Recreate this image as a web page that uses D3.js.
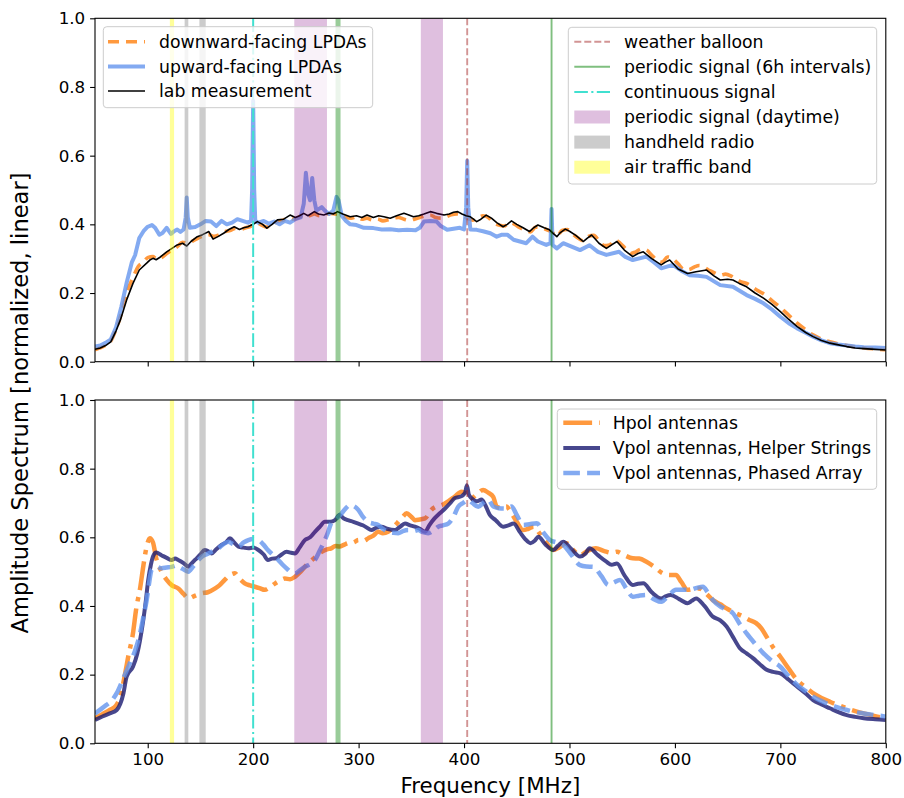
<!DOCTYPE html>
<html><head><meta charset="utf-8">
<script src="https://cdn.jsdelivr.net/npm/d3@7"></script>
<style>body{margin:0;background:#fff}text{font-family:"DejaVu Sans",sans-serif}</style>
</head><body><svg id="c" width="904" height="798"></svg>
<script>
// ---------------- DATA ----------------
const xTicks = [100,200,300,400,500,600,700,800];
const yTicks = [0,0.2,0.4,0.6,0.8,1.0];

// top panel
const downFreq = [50,55,60,65,70,75,80,86,91,96,100,105,109,113,118,123,128,133,138,143,148,153,158,163,168,173,178,183,188,193,198,203,208,213,218,223,228,233,238,243,248,253,258,263,268,273,278,283,288,293,298,303,308,313,318,323,328,333,338,343,348,353,358,363,368,373,378,383,388,393,398,403,408,413,418,423,428,433,438,443,448,453,458,463,468,473,478,483,488,493,498,503,508,513,518,523,528,533,538,543,548,553,558,563,568,573,578,583,588,593,598,603,608,613,618,623,628,633,638,643,648,653,658,663,668,673,678,684,692,700,708,716,724,731,739,747,755,763,771,779,790,800];
const downVals = [0.035,0.04,0.048,0.06,0.095,0.14,0.2,0.245,0.277,0.29,0.303,0.306,0.298,0.303,0.315,0.325,0.335,0.348,0.345,0.352,0.36,0.367,0.37,0.365,0.37,0.378,0.382,0.388,0.385,0.39,0.395,0.405,0.398,0.392,0.4,0.408,0.412,0.418,0.415,0.42,0.427,0.425,0.43,0.425,0.428,0.432,0.43,0.428,0.42,0.418,0.422,0.415,0.418,0.413,0.416,0.41,0.413,0.418,0.42,0.415,0.412,0.415,0.42,0.425,0.427,0.42,0.418,0.422,0.428,0.43,0.425,0.418,0.412,0.418,0.425,0.42,0.405,0.398,0.395,0.405,0.4,0.39,0.383,0.378,0.392,0.39,0.385,0.378,0.366,0.382,0.385,0.372,0.36,0.352,0.365,0.368,0.352,0.338,0.34,0.355,0.345,0.33,0.315,0.32,0.328,0.325,0.31,0.295,0.29,0.305,0.3,0.285,0.27,0.268,0.275,0.28,0.275,0.265,0.258,0.252,0.255,0.25,0.24,0.232,0.228,0.218,0.208,0.198,0.178,0.158,0.135,0.112,0.093,0.078,0.066,0.058,0.052,0.047,0.043,0.04,0.037,0.035];

const upFreq = [50,55,60,65,70,75,80,85,88,92,96,100,104,107,111,114,118,122,125,128,131,134,136,137,138,140,145,150,155,160,165,170,175,180,185,190,195,198,199,200,201,202,205,210,215,220,225,230,235,240,245,248,250,252,254,256,258,260,265,268,272,276,279,281,284,288,292,298,305,314,322,330,338,346,354,358,362,368,374,378,384,390,396,400,402,403,404,406,412,418,425,431,436,441,447,453,459,465,470,478,482,483,484,488,494,502,510,519,527,535,547,553,560,573,580,587,598,606,614,622,630,643,655,668,676,684,692,700,708,716,724,731,739,747,755,763,771,779,790,800];
const upVals = [0.044,0.047,0.055,0.065,0.1,0.16,0.23,0.29,0.31,0.36,0.38,0.393,0.398,0.39,0.37,0.375,0.39,0.372,0.38,0.385,0.378,0.385,0.42,0.478,0.42,0.39,0.392,0.4,0.41,0.408,0.395,0.41,0.4,0.405,0.415,0.41,0.405,0.41,0.5,0.76,0.5,0.41,0.405,0.41,0.402,0.408,0.4,0.41,0.405,0.415,0.42,0.46,0.55,0.49,0.47,0.535,0.47,0.44,0.45,0.44,0.43,0.44,0.48,0.47,0.425,0.41,0.4,0.398,0.39,0.389,0.385,0.386,0.383,0.384,0.383,0.39,0.408,0.41,0.408,0.395,0.384,0.387,0.39,0.385,0.45,0.585,0.45,0.385,0.384,0.38,0.374,0.364,0.37,0.37,0.355,0.35,0.345,0.364,0.35,0.34,0.345,0.445,0.34,0.33,0.345,0.335,0.325,0.339,0.32,0.311,0.32,0.305,0.296,0.306,0.29,0.272,0.282,0.265,0.252,0.25,0.247,0.223,0.218,0.194,0.183,0.17,0.152,0.131,0.112,0.097,0.084,0.073,0.062,0.054,0.05,0.047,0.044,0.042,0.041,0.04];

const labFreq = [50,55,60,65,70,74,80,86,92,99,102,105,108,112,118,123,128,133,137,141,147,152,158,162,167,172,177,182,187,191,195,200,204,209,213,218,223,229,235,240,244,248,252,258,262,267,272,276,280,285,292,298,303,308,314,319,324,330,336,343,347,352,357,362,368,374,381,386,390,394,398,402,406,409,412,416,421,426,431,437,441,445,450,456,462,466,470,476,481,484,488,491,496,500,506,513,517,521,528,535,540,545,552,560,565,570,578,587,591,595,603,612,620,630,637,643,650,655,661,668,676,684,692,700,708,716,724,731,739,747,755,763,771,779,790,800];
const labVals = [0.036,0.04,0.047,0.058,0.09,0.121,0.18,0.228,0.267,0.287,0.296,0.301,0.297,0.305,0.32,0.33,0.34,0.345,0.337,0.35,0.364,0.37,0.379,0.357,0.365,0.374,0.385,0.393,0.385,0.39,0.393,0.4,0.408,0.4,0.389,0.4,0.413,0.415,0.427,0.42,0.425,0.432,0.425,0.437,0.43,0.427,0.433,0.43,0.437,0.43,0.422,0.425,0.42,0.427,0.42,0.425,0.422,0.418,0.425,0.432,0.428,0.422,0.425,0.43,0.437,0.432,0.427,0.43,0.435,0.437,0.43,0.425,0.422,0.415,0.408,0.415,0.427,0.418,0.405,0.393,0.4,0.41,0.4,0.39,0.379,0.39,0.398,0.39,0.384,0.375,0.364,0.375,0.386,0.38,0.368,0.35,0.36,0.369,0.345,0.33,0.34,0.35,0.325,0.306,0.315,0.32,0.3,0.282,0.29,0.296,0.27,0.257,0.262,0.267,0.25,0.238,0.24,0.238,0.228,0.218,0.2,0.185,0.167,0.146,0.123,0.102,0.085,0.073,0.062,0.054,0.049,0.044,0.04,0.038,0.036,0.034];

// bottom panel
const hpolFreq = [50,57,64,70,74,78,82,86,89,93,96,99,102,105,108,113,118,123,129,134,138.5,145,151,157,164,168,173,178,182.7,187,192,197,201.7,206,211,216,221,226,230,235,239.6,245,252,258,265,270,274,278,282,286,290,295,300,305,309,314,318.6,323,328,333,337.6,342,345.5,350,353.4,358,363,369,374,379,385,391,397.7,403,407,412,418,423,427.7,431,436,440,445,450,456,461,466,472,478,484.6,490,497,503,510,517,525,533,540,545,552,560,566,573,580,588.6,595,601,606,612,618,623,630,636,643,649,657,664.7,670,677,682,687,693,700,708,716,724,731,739,747,755,763,771,779,790,800];
const hpolVals = [0.073,0.085,0.097,0.11,0.136,0.194,0.26,0.32,0.39,0.456,0.52,0.573,0.597,0.585,0.54,0.5,0.476,0.46,0.451,0.435,0.422,0.43,0.437,0.44,0.451,0.46,0.476,0.49,0.495,0.48,0.466,0.46,0.456,0.452,0.447,0.455,0.466,0.475,0.48,0.478,0.485,0.5,0.524,0.54,0.558,0.565,0.568,0.575,0.573,0.578,0.583,0.585,0.592,0.59,0.597,0.605,0.616,0.612,0.616,0.63,0.645,0.66,0.67,0.66,0.65,0.652,0.655,0.68,0.69,0.694,0.705,0.718,0.733,0.725,0.714,0.725,0.738,0.73,0.718,0.689,0.685,0.69,0.67,0.645,0.621,0.625,0.631,0.61,0.585,0.563,0.57,0.583,0.565,0.548,0.56,0.568,0.56,0.555,0.558,0.548,0.539,0.538,0.529,0.515,0.495,0.49,0.49,0.47,0.447,0.45,0.451,0.435,0.417,0.405,0.393,0.38,0.369,0.36,0.35,0.335,0.31,0.28,0.252,0.217,0.184,0.163,0.146,0.132,0.121,0.111,0.102,0.094,0.087,0.079,0.073];

const helperFreq = [50,57,64,70.6,74,77,80,86,90,92.7,95.8,98,100.5,103,105,108,113,118,122.7,126,129,134,138.5,141,144.8,150,154,157,160.6,165,170,174,178,182,186,191,195.4,200,205,210,214,218,222,227,231.7,236,239.6,244,249,254,258.6,263,268,273,277.6,281.7,286,290,295,299.7,304,308,312,317,321.8,327,334.5,339,344,349,353.4,358,363,367,372,377,382,387,391,397.7,401,402.7,404.5,407,412,416.6,420,424.5,430,437,442,447,453,458,463,467,470.5,477,484.6,489,494,502,510,515,519,527,535,540,545,552,560,565,570,578,587,591,596,604,612,616,620,628,636,643,649,655,661.6,668,674,680,687,693,700,708,716,724,731,739,747,755,763,771,779,790,800];
const helperVals = [0.068,0.078,0.087,0.097,0.115,0.146,0.194,0.223,0.26,0.3,0.359,0.41,0.476,0.52,0.544,0.556,0.548,0.54,0.534,0.538,0.534,0.525,0.514,0.522,0.534,0.55,0.563,0.56,0.553,0.565,0.578,0.585,0.597,0.585,0.573,0.57,0.568,0.57,0.563,0.55,0.534,0.538,0.539,0.55,0.558,0.555,0.553,0.57,0.592,0.6,0.616,0.63,0.645,0.645,0.65,0.665,0.655,0.65,0.645,0.64,0.635,0.628,0.621,0.628,0.631,0.625,0.621,0.63,0.64,0.635,0.631,0.625,0.616,0.635,0.655,0.67,0.684,0.7,0.714,0.72,0.73,0.752,0.725,0.714,0.705,0.71,0.695,0.665,0.65,0.631,0.635,0.64,0.615,0.595,0.583,0.59,0.602,0.58,0.563,0.575,0.587,0.565,0.544,0.552,0.568,0.548,0.529,0.52,0.524,0.49,0.461,0.465,0.466,0.44,0.422,0.428,0.432,0.42,0.408,0.415,0.422,0.4,0.369,0.358,0.34,0.31,0.277,0.262,0.248,0.232,0.214,0.208,0.204,0.185,0.165,0.145,0.126,0.113,0.102,0.091,0.082,0.077,0.073,0.07,0.068];

const phasedFreq = [50,55,61,66,70.6,77,83,88,92.7,96,99,101,103.7,106,108.5,113,118,122.7,127,132,135,138.5,143,148,152,157.5,162,167,171,176.4,181,186,191,195.4,200,205,210,214,219,223.8,228,233.3,236,239.6,244,249,254,258.6,263,268,271,274,279,284,288,291.8,296,299.7,304,309,314,318.6,323,328,333,337.6,342,347,352,356.6,361,366,371,375.5,380,385,390,394.5,399,404,408,413.5,418,423,427.7,433,440,445,450,456,462,469,475,481.5,488,494,502,510,516,522.7,530,537,542,548,554,560,566,573,580,587,594,601,607,614,620,626.6,631,636,645,655,661,668,676,684,692,700,708,716,724,731,739,747,755,763,771,779,790,800];
const phasedVals = [0.087,0.098,0.112,0.125,0.146,0.19,0.233,0.27,0.32,0.37,0.417,0.46,0.505,0.51,0.514,0.51,0.512,0.514,0.518,0.51,0.505,0.5,0.515,0.534,0.545,0.553,0.56,0.568,0.578,0.587,0.58,0.573,0.585,0.592,0.595,0.592,0.578,0.563,0.548,0.534,0.52,0.505,0.498,0.495,0.503,0.514,0.522,0.534,0.56,0.592,0.615,0.641,0.655,0.67,0.685,0.694,0.69,0.68,0.66,0.645,0.64,0.636,0.625,0.616,0.613,0.612,0.618,0.621,0.618,0.621,0.615,0.612,0.62,0.631,0.635,0.64,0.66,0.689,0.7,0.709,0.7,0.689,0.7,0.709,0.69,0.685,0.684,0.69,0.665,0.636,0.638,0.641,0.615,0.592,0.585,0.578,0.548,0.519,0.515,0.514,0.488,0.461,0.468,0.476,0.45,0.427,0.43,0.432,0.42,0.412,0.43,0.447,0.447,0.447,0.452,0.456,0.44,0.417,0.395,0.379,0.35,0.32,0.29,0.262,0.24,0.223,0.195,0.17,0.152,0.136,0.123,0.112,0.104,0.097,0.091,0.087,0.082,0.078];

// RFI markers
const purpleBands = [[239,270],[359,380]];
const grayBands = [[135,138.5],[149,155]];
const yellowBand = [121,125];
const green6hThick = 280.5;
const green6hThin = 483;
const continuousFreq = 200;
const balloonFreq = 403;

const topLegendLabels = ["downward-facing LPDAs","upward-facing LPDAs","lab measurement"];
const rfiLegendLabels = ["weather balloon","periodic signal (6h intervals)","continuous signal","periodic signal (daytime)","handheld radio","air traffic band"];
const botLegendLabels = ["Hpol antennas","Vpol antennas, Helper Strings","Vpol antennas, Phased Array"];

// ---------------- DRAW ----------------
const svg = d3.select("#c");
const X0 = 95, X1 = 885.8;
const x = d3.scaleLinear().domain([50,800]).range([X0,X1]);
const panels = [{y0:18.3,y1:361.7},{y0:400,y1:743.3}];
const FS = 16.7, LFS = 17.3;

const C = {
  orange: "rgba(255,127,14,0.8)",
  blue: "rgba(100,149,237,0.8)",
  navy: "rgba(25,25,112,0.8)",
  purple: "rgba(128,0,128,0.25)",
  gray: "rgba(128,128,128,0.4)",
  yellow: "rgba(255,255,0,0.4)",
  greenThick: "rgba(0,128,0,0.4)",
  greenThin: "rgba(0,128,0,0.5)",
  balloon: "rgba(165,42,42,0.5)",
  turq: "#40E0D0"
};

function zip(f,v){return f.map((d,i)=>[d,v[i]]);}

panels.forEach((p,pi)=>{
  const y = d3.scaleLinear().domain([0,1]).range([p.y1,p.y0]);
  p.y = y;
  const g = svg.append("g");
  const cid = "clip"+pi;
  svg.append("clipPath").attr("id",cid).append("rect")
    .attr("x",X0).attr("y",p.y0).attr("width",X1-X0).attr("height",p.y1-p.y0);
  const pg = g.append("g").attr("clip-path",`url(#${cid})`);
  p.pg = pg;
  const xa = d3.axisBottom(x).tickValues(xTicks).tickSize(4.9).tickPadding(4.9)
    .tickFormat(pi===0? ()=>"" : d3.format("d"));
  g.append("g").attr("transform",`translate(0,${p.y1})`).call(xa)
    .call(s=>{s.select(".domain").remove();s.selectAll("text").attr("font-size",FS).attr("fill","#000").attr("font-family","DejaVu Sans");s.selectAll("line").attr("stroke","#000").attr("stroke-width",1.1);});
  const ya = d3.axisLeft(y).tickValues(yTicks).tickSize(4.9).tickPadding(4.9).tickFormat(d3.format(".1f"));
  g.append("g").attr("transform",`translate(${X0},0)`).call(ya)
    .call(s=>{s.select(".domain").remove();s.selectAll("text").attr("font-size",FS).attr("fill","#000").attr("font-family","DejaVu Sans");s.selectAll("line").attr("stroke","#000").attr("stroke-width",1.1);});
});

function curve(pg, y, data, color, lw, dash, curveType){
  const line = d3.line().x(d=>x(d[0])).y(d=>y(d[1])).curve(curveType||d3.curveMonotoneX);
  pg.append("path").datum(data).attr("d",line).attr("fill","none")
    .attr("stroke",color).attr("stroke-width",lw).attr("stroke-linejoin","round")
    .attr("stroke-dasharray",dash||null);
}

{
  const p = panels[0];
  curve(p.pg,p.y,zip(downFreq,downVals),C.orange,3.6,"11,7");
  curve(p.pg,p.y,zip(upFreq,upVals),C.blue,4,null,d3.curveLinear);
  curve(p.pg,p.y,zip(labFreq,labVals),"#000",1.6,null,d3.curveLinear);
}
{
  const p = panels[1];
  curve(p.pg,p.y,zip(hpolFreq,hpolVals),C.orange,4.5,"28.8,7.2,4.5,7.2");
  curve(p.pg,p.y,zip(helperFreq,helperVals),C.navy,4,null);
  curve(p.pg,p.y,zip(phasedFreq,phasedVals),C.blue,4.5,"16.6,7.2");
}

panels.forEach(p=>{
  const pg = p.pg;
  const band=(r,col)=>pg.append("rect").attr("x",x(r[0])).attr("width",x(r[1])-x(r[0]))
    .attr("y",p.y0).attr("height",p.y1-p.y0).attr("fill",col);
  const vline=(f,col,lw,dash)=>pg.append("line").attr("x1",x(f)).attr("x2",x(f))
    .attr("y1",p.y0).attr("y2",p.y1).attr("stroke",col).attr("stroke-width",lw).attr("stroke-dasharray",dash||null);
  band(yellowBand,C.yellow);
  grayBands.forEach(b=>band(b,C.gray));
  purpleBands.forEach(b=>band(b,C.purple));
  vline(green6hThick,C.greenThick,5);
  vline(green6hThin,C.greenThin,1.9);
  vline(continuousFreq,C.turq,2,"13.6,3.4,2.1,3.4");
  vline(balloonFreq,C.balloon,1.9,"7,3");
  svg.append("rect").attr("x",X0).attr("y",p.y0).attr("width",X1-X0).attr("height",p.y1-p.y0)
    .attr("fill","none").attr("stroke","#000").attr("stroke-width",1.1);
});

function legend(x0,y0,w,h,items,textX,handleX0,handleX1,rowY){
  const g = svg.append("g");
  g.append("rect").attr("x",x0).attr("y",y0).attr("width",w).attr("height",h).attr("rx",3.5)
    .attr("fill","rgba(255,255,255,0.8)").attr("stroke","#cccccc").attr("stroke-width",1);
  items.forEach((it,i)=>{
    const yy = rowY[i];
    if(it.type==="patch"){
      g.append("rect").attr("x",handleX0).attr("y",yy-6.5).attr("width",handleX1-handleX0).attr("height",13).attr("fill",it.color);
    } else {
      g.append("line").attr("x1",handleX0).attr("x2",handleX1).attr("y1",yy).attr("y2",yy)
        .attr("stroke",it.color).attr("stroke-width",it.lw).attr("stroke-dasharray",it.dash||null);
    }
    g.append("text").attr("x",textX).attr("y",yy).attr("dy","0.36em").attr("font-size",LFS).attr("fill","#000").text(it.label);
  });
}
legend(103.3,26.7,269.4,81,[
  {label:topLegendLabels[0],color:C.orange,lw:3.6,dash:"11,7"},
  {label:topLegendLabels[1],color:C.blue,lw:4},
  {label:topLegendLabels[2],color:"#000",lw:1.6}
],159,108,145,[41.7,66.4,91]);

legend(568.3,27.3,308.4,156.7,[
  {label:rfiLegendLabels[0],color:C.balloon,lw:1.9,dash:"7,3"},
  {label:rfiLegendLabels[1],color:C.greenThin,lw:1.9},
  {label:rfiLegendLabels[2],color:C.turq,lw:2,dash:"13.6,3.4,2.1,3.4"},
  {label:rfiLegendLabels[3],type:"patch",color:C.purple},
  {label:rfiLegendLabels[4],type:"patch",color:C.gray},
  {label:rfiLegendLabels[5],type:"patch",color:C.yellow}
],624,574.3,610,[41.7,66.8,91.9,117,142.1,167.2]);

legend(557.3,409,319.4,80.3,[
  {label:botLegendLabels[0],color:C.orange,lw:4.5,dash:"28.8,7.2,4.5,7.2"},
  {label:botLegendLabels[1],color:C.navy,lw:4},
  {label:botLegendLabels[2],color:C.blue,lw:4.5,dash:"16.6,7.2"}
],612.7,563.3,600,[422.7,447.9,473.1]);

svg.append("text").attr("x",(X0+X1)/2).attr("y",785).attr("dy","0.36em").attr("text-anchor","middle")
  .attr("font-size",21.4).attr("fill","#000").text("Frequency [MHz]");
svg.append("text").attr("transform",`translate(20,403) rotate(-90)`).attr("dy","0.36em")
  .attr("text-anchor","middle").attr("font-size",22.6).attr("fill","#000").text("Amplitude Spectrum [normalized, linear]");
</script></body></html>
